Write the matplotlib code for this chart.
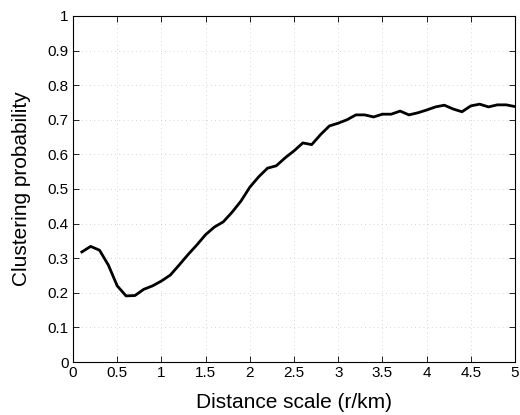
import numpy as np
import matplotlib
matplotlib.use('Agg')
import matplotlib.pyplot as plt

# Distance scale (km) and clustering probability
distance = [0.1, 0.2, 0.3, 0.4, 0.5, 0.6, 0.7, 0.8, 0.9, 1.0,
            1.1, 1.2, 1.3, 1.4, 1.5, 1.6, 1.7, 1.8, 1.9, 2.0,
            2.1, 2.2, 2.3, 2.4, 2.5, 2.6, 2.7, 2.8, 2.9, 3.0,
            3.1, 3.2, 3.3, 3.4, 3.5, 3.6, 3.7, 3.8, 3.9, 4.0,
            4.1, 4.2, 4.3, 4.4, 4.5, 4.6, 4.7, 4.8, 4.9, 5.0]
probability = [0.318, 0.334, 0.323, 0.280, 0.220, 0.191, 0.192, 0.210, 0.220, 0.234,
               0.251, 0.280, 0.310, 0.338, 0.368, 0.390, 0.405, 0.433, 0.465, 0.505,
               0.535, 0.560, 0.567, 0.590, 0.610, 0.633, 0.628, 0.657, 0.682, 0.690,
               0.700, 0.714, 0.714, 0.708, 0.716, 0.716, 0.725, 0.714, 0.720, 0.728,
               0.737, 0.742, 0.731, 0.723, 0.740, 0.745, 0.737, 0.743, 0.743, 0.738]

xticks = [0, 0.5, 1, 1.5, 2, 2.5, 3, 3.5, 4, 4.5, 5]
yticks = [0, 0.1, 0.2, 0.3, 0.4, 0.5, 0.6, 0.7, 0.8, 0.9, 1]

plt.rcParams['font.family'] = ['Liberation Sans', 'DejaVu Sans']

fig = plt.figure(figsize=(5.2, 4.15), dpi=100)
ax = fig.add_axes([0.1404, 0.1277, 0.85, 0.834])

ax.plot(distance, probability, color='black', linewidth=2.0)

ax.set_xlim(0, 5)
ax.set_ylim(0, 1)
ax.set_xticks(xticks)
ax.set_yticks(yticks)
ax.set_xticklabels(['0', '0.5', '1', '1.5', '2', '2.5', '3', '3.5', '4', '4.5', '5'])
ax.set_yticklabels(['0', '0.1', '0.2', '0.3', '0.4', '0.5', '0.6', '0.7', '0.8', '0.9', '1'])
ax.tick_params(direction='in', top=True, right=True, labelsize=11, length=4, width=0.6, pad=3)
ax.grid(True, linestyle=(0, (1, 4)), color='#c8c8c8', linewidth=0.6)
for s in ax.spines.values():
    s.set_linewidth(0.8)

ax.set_xlabel('Distance scale (r/km)', fontsize=15, labelpad=9)
ax.set_ylabel('Clustering probability', fontsize=15, labelpad=12)

fig.savefig('out.png', dpi=100)
